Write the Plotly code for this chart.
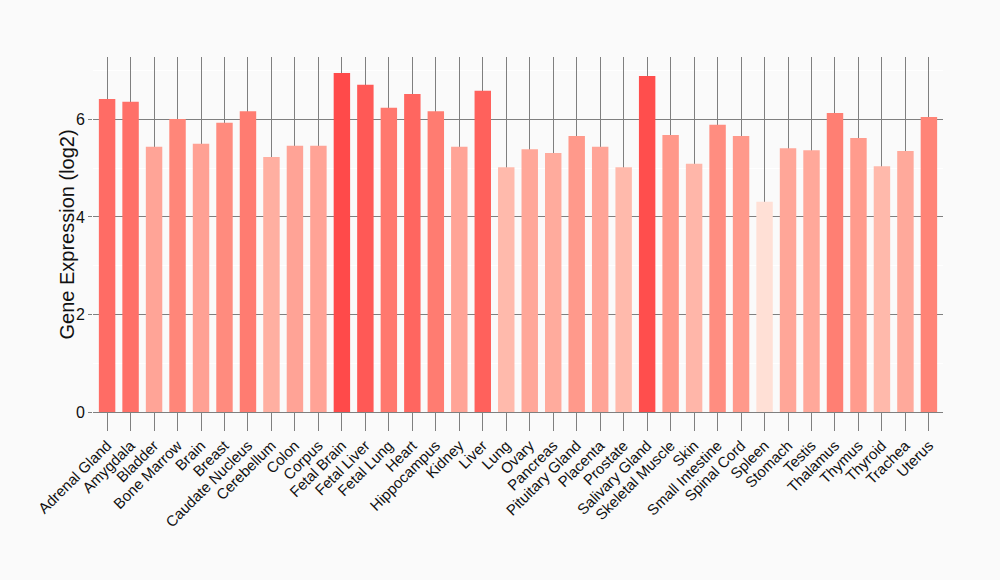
import plotly.graph_objects as go

tissues = ["Adrenal Gland", "Amygdala", "Bladder", "Bone Marrow", "Brain", "Breast",
           "Caudate Nucleus", "Cerebellum", "Colon", "Corpus", "Fetal Brain", "Fetal Liver",
           "Fetal Lung", "Heart", "Hippocampus", "Kidney", "Liver", "Lung", "Ovary",
           "Pancreas", "Pituitary Gland", "Placenta", "Prostate", "Salivary Gland",
           "Skeletal Muscle", "Skin", "Small Intestine", "Spinal Cord", "Spleen", "Stomach",
           "Testis", "Thalamus", "Thymus", "Thyroid", "Trachea", "Uterus"]
expression = [6.42, 6.36, 5.44, 6.01, 5.50, 5.93,
              6.17, 5.23, 5.46, 5.46, 6.95, 6.71,
              6.24, 6.52, 6.17, 5.44, 6.59, 5.02, 5.39,
              5.31, 5.66, 5.44, 5.02, 6.89,
              5.68, 5.09, 5.89, 5.66, 4.31, 5.41,
              5.37, 6.13, 5.62, 5.04, 5.35, 6.05]

y_ticks = [0, 2, 4, 6]
y_title = "Gene Expression (log2)"

colorscale = [[0.0, "#FFE0D6"], [0.27, "#FFBAAC"], [0.64, "#FF877A"], [1.0, "#FF4A4A"]]

fig = go.Figure(go.Bar(
    x=tissues, y=expression, width=0.7,
    marker=dict(color=expression, colorscale=colorscale,
                cmin=min(expression), cmax=max(expression), line=dict(width=0)),
    hovertemplate="%{x}: %{y}<extra></extra>",
))

grid = "#7f7f7f"
fig.update_layout(
    width=1000, height=580,
    paper_bgcolor="#FAFAFA", plot_bgcolor="#FAFAFA",
    margin=dict(l=93, r=57, t=57, b=168),
    font=dict(family="Liberation Sans, Arial, sans-serif", color="#111111"),
    showlegend=False,
    xaxis=dict(
        type="category", range=[-0.6, len(tissues) - 0.4],
        showgrid=True, gridcolor=grid, gridwidth=1,
        ticks="outside", ticklen=18, tickcolor=grid, tickwidth=1,
        tickangle=-45, tickfont=dict(size=15, color="#111111"),
        showline=True, linecolor=grid, linewidth=1,
        zeroline=False, fixedrange=True,
    ),
    yaxis=dict(
        range=[0, 7.28], tickvals=y_ticks,
        showgrid=True, gridcolor=grid, gridwidth=1,
        minor=dict(dtick=1, tick0=0, showgrid=True, gridcolor="#FFFFFF", gridwidth=1),
        ticks="outside", ticklen=4, tickcolor=grid, tickwidth=1,
        tickfont=dict(size=16, color="#111111"),
        showline=False, zeroline=False, fixedrange=True,
    ),
    annotations=[dict(
        text=y_title, textangle=-90, showarrow=False,
        xref="paper", yref="paper", x=-27 / 850, y=0.5,
        xanchor="center", yanchor="middle",
        font=dict(size=20, color="#111111"),
    )],
)

fig.write_html("out.html", config={"displayModeBar": False},
               post_script="document.body.style.margin='0';")
